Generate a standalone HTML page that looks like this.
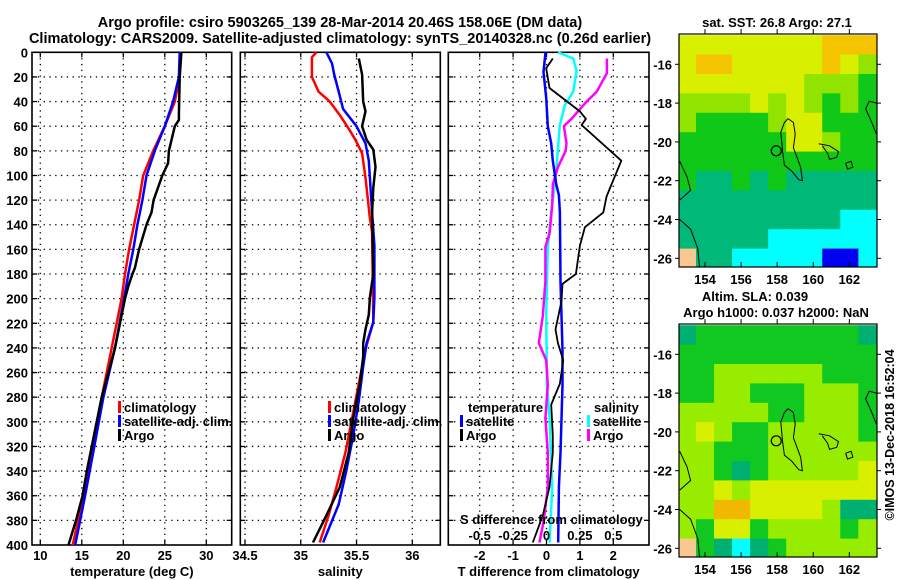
<!DOCTYPE html>
<html><head><meta charset="utf-8"><style>
body{margin:0;background:#fff}
svg{display:block}
text{font-family:"Liberation Sans",Arial,sans-serif;font-weight:bold;fill:#000}
</style></head><body>
<svg id="fig" width="900" height="580" viewBox="0 0 900 580" xmlns="http://www.w3.org/2000/svg">
<text x="340" y="27" font-size="14.5" text-anchor="middle">Argo profile: csiro 5903265_139 28-Mar-2014 20.46S 158.06E (DM data)</text>
<text x="340" y="43" font-size="14.5" text-anchor="middle">Climatology: CARS2009. Satellite-adjusted climatology: synTS_20140328.nc (0.26d earlier)</text>
<g id="layer"></g>
</svg>
<script>
// ---------- data ----------
const depthTicks=[0,20,40,60,80,100,120,140,160,180,200,220,240,260,280,300,320,340,360,380,400];
const tempTicks=[10,15,20,25,30];
const salTicks=[34.5,35,35.5,36];
const tdiffTicks=[-2,-1,0,1,2];
const sdiffTicks=[-0.5,-0.25,0,0.25,0.5];
const sdiffLabels=["-0.5","-0.25","0","0.25","0.5"];

const tArgoDepth=[0,20,50,55,60,80,90,100,120,130,140,160,175,180,190,200,240,280,300,340,360,380,400];
const tArgoVal=[27.0,26.8,26.7,26.7,26.2,25.5,25.4,24.7,23.65,23.4,22.8,21.9,21.4,21.1,20.6,20.2,19.0,17.4,16.8,15.6,15.1,14.3,13.4];
const tClimDepth=[0,20,40,60,80,100,120,140,160,180,200,240,280,320,360,400];
const tClimVal=[26.9,26.8,26.2,25.0,23.6,22.4,21.9,21.3,20.7,20.2,19.8,18.6,17.4,16.3,15.2,13.9];
const tSatDepth=[0,20,40,60,80,100,120,140,160,180,200,240,280,320,360,400];
const tSatVal=[26.8,26.7,26.0,25.0,23.8,22.8,22.3,21.7,21.2,20.6,20.1,19.0,17.6,16.5,15.4,14.2];

const sArgoDepth=[5,18,40,48,60,71,79,93,110,130,180,199,213,225,236,247,269,297,325,353,376,398];
const sArgoVal=[35.52,35.55,35.56,35.58,35.55,35.59,35.65,35.67,35.65,35.64,35.65,35.62,35.61,35.58,35.56,35.56,35.53,35.47,35.43,35.35,35.23,35.11];
const sClimDepth=[0,4,20,32,40,51,62,71,82,102,118,135,146,219,241,269,297,325,353,376,398];
const sClimVal=[35.14,35.10,35.10,35.16,35.26,35.35,35.43,35.49,35.55,35.58,35.60,35.62,35.64,35.65,35.58,35.52,35.46,35.40,35.32,35.25,35.17];
const sSatDepth=[0,9,18,32,46,60,74,88,102,130,157,199,219,236,255,283,311,339,367,398];
const sSatVal=[35.23,35.28,35.30,35.34,35.38,35.50,35.58,35.61,35.62,35.64,35.66,35.66,35.65,35.59,35.56,35.52,35.47,35.41,35.34,35.20];

const dTSatDepth=[0,16,37,60,74,88,107,116,130,186,242,270,325,353,398];
const dTSatVal=[-0.03,-0.09,-0.01,0.04,0.14,0.19,0.29,0.37,0.40,0.42,0.48,0.48,0.42,0.37,0.35];
const dTArgoDepth=[5,13,29,48,54,59,88,117,130,142,157,180,188,202,225,236,250,269,286,311,325,353,376,398];
const dTArgoVal=[0.19,-0.01,0.09,1.0,1.18,1.05,2.24,1.8,1.7,1.15,1.0,0.88,0.48,0.45,0.27,0.34,0.5,0.4,0.14,0.19,0.19,0.09,-0.11,-0.41];
const dSSatDepth=[0,5,15,32,43,60,102,130,158,214,270,297,353,398];
const dSSatVal=[0.086,0.20,0.225,0.20,0.137,0.099,0.068,0.035,0.01,-0.002,0.003,0.023,0.043,0.023];
const dSArgoDepth=[5,17,32,40,54,60,74,80,93,107,124,147,158,186,214,236,250,270,297,325,353,381,398];
const dSArgoVal=[0.452,0.452,0.376,0.30,0.187,0.13,0.15,0.144,0.086,0.048,0.043,0.023,-0.008,-0.008,-0.028,-0.058,-0.002,0.01,-0.008,0.01,0.01,-0.022,-0.053];

// map colour grids: rows lat -15..-26, cols lon 153..163
const sstRows=["YYYYYYYYOOO","YOOYYYYYOYL","YYYYYYYLLLG","LLLLYLYLGLG","LGGGGLYYGGG","GGGGGGYYLGG","GGGGGGGGGGG","GTTGTGTTTTT","TTTTTTTTTTT","TTTTTTTTTCC","TTTTTCCCCCC","STTCCCCCBBC"];
const slaRows=["TGGGGGGGGGT","GGGGGGGGGGG","GGLLLLLLGGG","GGLLGGGLLLG","LLLLLGGLLLG","LYLGGLLLLLG","LLGGGLLLLLL","LLGTGLLLLLY","LLYLYYYYYYY","LLOOYYYYLTT","LGYYGLLLLGL","SGTCTGLLLLL"];
const lonTicks=[154,156,158,160,162];
const latTicks=[-16,-18,-20,-22,-24,-26];

// ---------- helpers ----------
const NS="http://www.w3.org/2000/svg";
const L=document.getElementById('layer');
function mk(tag,attrs,parent){const e=document.createElementNS(NS,tag);for(const k in attrs)e.setAttribute(k,attrs[k]);(parent||L).appendChild(e);return e;}
const TOP=52.3,BOT=545;
const yD=d=>TOP+(BOT-TOP)*d/400;
function lin(v0,p0,v1,p1){return v=>p0+(v-v0)*(p1-p0)/(v1-v0);}
const xT=lin(10,40.3,30,206.3);
const xS=lin(34.5,245,36,412.3);
const xDT=lin(0,546.5,2,613.3);
const xDS=v=>xDT(v*4);

function panel(name,x0,x1,xf,ticks,labels,xlabel){
  const g=mk('g',{});
  
  
  ticks.forEach((t,i)=>{
    const x=xf(t);
    const gl=mk('line',{x1:x,x2:x,y1:TOP,y2:BOT,stroke:'#000','stroke-width':1.3,'stroke-dasharray':'1.3 4.5'},g);
    
    
    mk('line',{x1:x,x2:x,y1:BOT,y2:BOT-5,stroke:'#000','stroke-width':1.3},g);
    mk('line',{x1:x,x2:x,y1:TOP,y2:TOP+5,stroke:'#000','stroke-width':1.3},g);
    const tl=mk('text',{x:x,y:BOT+15,'font-size':13,'text-anchor':'middle'},g);
    tl.textContent=labels?labels[i]:String(t);
    
    
  });
  depthTicks.forEach(d=>{
    if(d===0||d===400)return;
    const y=yD(d);
    const gl=mk('line',{x1:x0,x2:x1,y1:y,y2:y,stroke:'#000','stroke-width':1.3,'stroke-dasharray':'1.3 4.5'},g);
    
    
    mk('line',{x1:x0,x2:x0+5,y1:y,y2:y,stroke:'#000','stroke-width':1.3},g);
    mk('line',{x1:x1,x2:x1-5,y1:y,y2:y,stroke:'#000','stroke-width':1.3},g);
  });
  const fr=mk('rect',{x:x0,y:TOP,width:x1-x0,height:BOT-TOP,fill:'none',stroke:'#000','stroke-width':1.6},g);
  
  
  const xl=mk('text',{x:(x0+x1)/2,y:BOT+31,'font-size':13,'text-anchor':'middle'},g);
  xl.textContent=xlabel;
  
  
  return g;
}
function series(g,name,xf,depths,vals,color,w){
  const pts=depths.map((d,i)=>xf(vals[i]).toFixed(1)+','+yD(d).toFixed(1)).join(' ');
  const p=mk('polyline',{points:pts,fill:'none',stroke:color,'stroke-width':w||2.5,'stroke-linejoin':'round'},g);
  
  
}
function legend(g,x,y,items){
  items.forEach((it,i)=>{
    const yy=y+i*14;
    mk('rect',{x:x,y:yy-6,width:3,height:12,fill:it[1]},g);
    const t=mk('text',{x:x+6,y:yy+5,'font-size':13},g);
    t.textContent=it[0];
    
    
  });
}

// depth labels
depthTicks.forEach(d=>{
  const t=mk('text',{x:28,y:yD(d)+5,'font-size':13,'text-anchor':'end'});
  t.textContent=String(d);
  
  
});

// panel 1
const p1=panel('temperature-panel',32,231.7,xT,tempTicks,null,'temperature (deg C)');
series(p1,'temperature-climatology-line',xT,tClimDepth,tClimVal,'#ff0000');
series(p1,'temperature-satellite-line',xT,tSatDepth,tSatVal,'#0000ff');
series(p1,'temperature-argo-line',xT,tArgoDepth,tArgoVal,'#000000');
legend(p1,118,407,[['climatology','#ff0000'],['satellite-adj. clim.','#0000ff'],['Argo','#000']]);

// panel 2
const p2=panel('salinity-panel',240.3,440.3,xS,salTicks,null,'salinity');
series(p2,'salinity-climatology-line',xS,sClimDepth,sClimVal,'#ff0000');
series(p2,'salinity-satellite-line',xS,sSatDepth,sSatVal,'#0000ff');
series(p2,'salinity-argo-line',xS,sArgoDepth,sArgoVal,'#000000');
legend(p2,328,407,[['climatology','#ff0000'],['satellite-adj. clim.','#0000ff'],['Argo','#000']]);

// panel 3
const p3=panel('difference-panel',448.3,649,xDT,tdiffTicks,null,'T difference from climatology');
series(p3,'salinity-diff-satellite-line',xDS,dSSatDepth,dSSatVal,'#00ffff');
series(p3,'salinity-diff-argo-line',xDS,dSArgoDepth,dSArgoVal,'#ff00ff');
series(p3,'temp-diff-satellite-line',xDT,dTSatDepth,dTSatVal,'#0000ff');
series(p3,'temp-diff-argo-line',xDT,dTArgoDepth,dTArgoVal,'#000000',1.8);
{
 const t=mk('text',{x:468,y:412,'font-size':13},p3);t.textContent='temperature';
 
 legend(p3,460,421,[['satellite','#0000ff'],['Argo','#000']]);
 const t2=mk('text',{x:594,y:412,'font-size':13},p3);t2.textContent='salinity';
 
 legend(p3,587,421,[['satellite','#00ffff'],['Argo','#ff00ff']]);
 const s=mk('text',{x:460,y:524,'font-size':13},p3);s.textContent='S difference from climatology';
 
 sdiffTicks.forEach((v,i)=>{
   const tl=mk('text',{x:xDS(v),y:540,'font-size':13,'text-anchor':'middle'},p3);
   tl.textContent=sdiffLabels[i];
   
   
 });
}

// ---------- maps ----------
const palSST={O:'#f4c400',Y:'#d8f000',L:'#90e400',G:'#10c818',T:'#00b878',C:'#00ffff',B:'#0000f0',S:'#f8c890'};
const palSLA={O:'#f0b800',Y:'#d8f000',L:'#98ec00',G:'#10c820',T:'#00b070',C:'#00ffff',B:'#0000f0',S:'#f8c890'};
const mx=lon=>705+(lon-154)*18.04;
function drawMap(name,yoff,rows,pal,title){
  const g=mk('g',{});
  
  
  const my=lat=>yoff+64.3+(-16-lat)*19.4;
  const cl=mk('clipPath',{id:name+'-clip'},g);
  mk('rect',{x:679,y:yoff+34,width:198,height:233},cl);
  const cg=mk('g',{'clip-path':'url(#'+name+'-clip)'},g);
  rows.forEach((r,ri)=>{
    const lat=-15-ri;
    [...r].forEach((c,ci)=>{
      const lon=153+ci;
      const x=mx(lon-0.5),y=my(lat+0.5);
      mk('rect',{x:x,y:y,width:18.6,height:20,fill:pal[c]},cg);
    });
  });
  const coast=[
    [[158.6,-18.8],[158.9,-19],[159,-19.6],[158.9,-20.3],[159.3,-21.3],[159.4,-22],[159.2,-21.95],[158.8,-21.5],[158.4,-21.2],[158.3,-20.5],[158.2,-19.5],[158.4,-19],[158.6,-18.8]],
    [[160.3,-20.1],[160.9,-20.2],[161.4,-20.5],[161.3,-20.8],[160.9,-20.9],[160.8,-20.6],[160.5,-20.2]],
    [[163.5,-18],[163.1,-17.9],[162.9,-18.3],[163.2,-18.9],[163.5,-19.6]],
    [[152.6,-21],[153,-21.8],[153.2,-22.5],[152.6,-23]],
    [[152.6,-24],[153.2,-24.5],[153.6,-25.5],[153.7,-26.5]],
    [[161.8,-21.1],[162.1,-21],[162.2,-21.3],[161.9,-21.4],[161.8,-21.1]]
  ];
  coast.forEach(c=>{
    const p=mk('polyline',{points:c.map(q=>mx(q[0]).toFixed(1)+','+my(q[1]).toFixed(1)).join(' '),fill:'none',stroke:'#000','stroke-width':1},cg);
    
    
  });
  const ac=mk('circle',{cx:mx(157.95),cy:my(-20.46),r:5,fill:'none',stroke:'#000','stroke-width':1.2},cg);
  
  
  mk('rect',{x:679,y:yoff+34,width:198,height:233,fill:'none',stroke:'#000','stroke-width':1.2},g);
  lonTicks.forEach(v=>{
    const x=mx(v);
    mk('line',{x1:x,x2:x,y1:yoff+267,y2:yoff+262,stroke:'#000'},g);
    mk('line',{x1:x,x2:x,y1:yoff+34,y2:yoff+29,stroke:'#000'},g);
    const t=mk('text',{x:x,y:yoff+284,'font-size':13,'text-anchor':'middle'},g);
    t.textContent=String(v);
    
    
  });
  latTicks.forEach(v=>{
    const y=my(v);
    mk('line',{x1:679,x2:675,y1:y,y2:y,stroke:'#000'},g);
    mk('line',{x1:877,x2:881,y1:y,y2:y,stroke:'#000'},g);
    const t=mk('text',{x:672,y:y+5,'font-size':13,'text-anchor':'end'},g);
    t.textContent=String(v);
    
    
  });
  title.forEach((s,i)=>{
    const t=mk('text',{x:s[1],y:yoff+s[2],'font-size':13,'text-anchor':'middle'},g);
    t.textContent=s[0];
    
    
  });
}
drawMap('sst-map',0,sstRows,palSST,[['sat. SST: 26.8 Argo: 27.1',777,27]]);
drawMap('sla-map',290,slaRows,palSLA,[['Altim. SLA: 0.039',755,11],['Argo h1000: 0.037 h2000: NaN',776,27]]);
{
 const t=mk('text',{x:0,y:0,'font-size':12.5,'text-anchor':'middle',transform:'translate(894,435) rotate(-90)'});
 t.textContent='©IMOS 13-Dec-2018 16:52:04';
 
 
}
</script>
</body></html>
